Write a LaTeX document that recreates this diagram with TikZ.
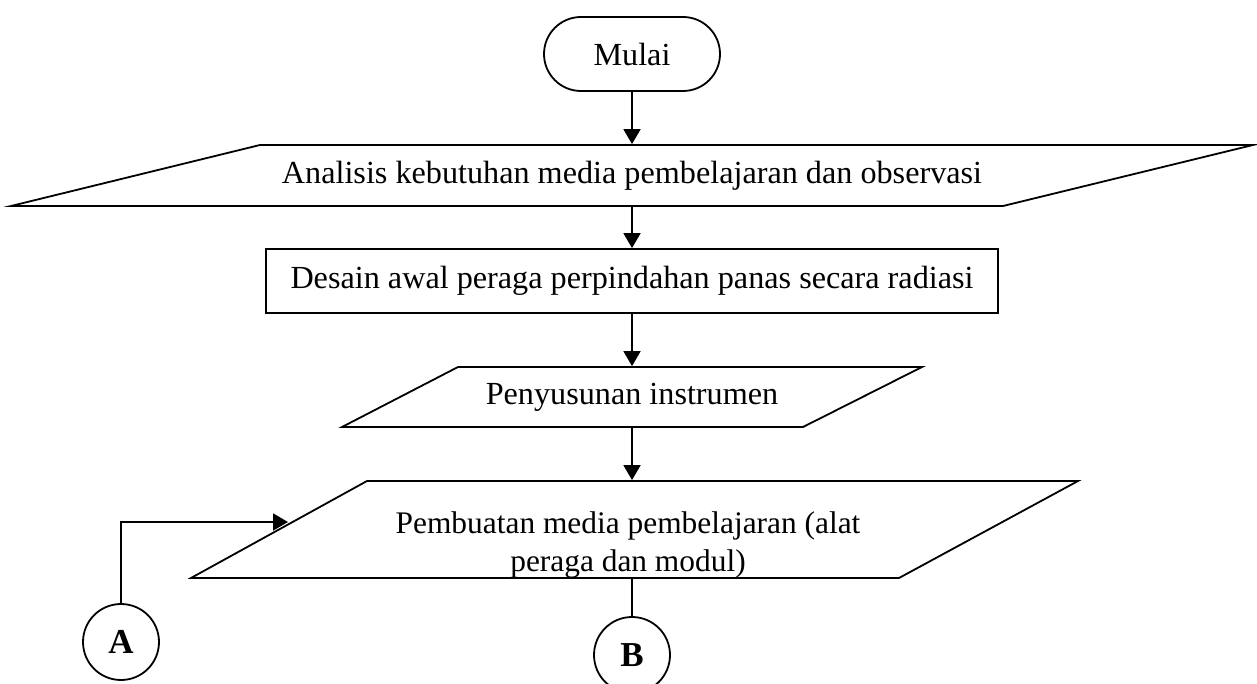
\documentclass[tikz,border=0pt]{standalone}
\usepackage{fontspec}
\setmainfont{Liberation Serif}
\usetikzlibrary{arrows.meta}

\tikzset{
  flow/.style={-{Triangle[length=7.5pt,width=8.5pt]}},
  konektor/.style={circle, draw, minimum size=38pt, inner sep=0pt, font=\fontsize{17.5}{20}\selectfont\bfseries}
}

\begin{document}
\begin{tikzpicture}[x=0.5pt,y=-0.5pt,line width=0.9pt,
    every node/.style={font=\fontsize{16.1}{19}\selectfont}]
  \useasboundingbox (0,0) rectangle (1257,684);
  % terminal
  \node[draw, rounded corners=18.5pt, minimum width=88pt, minimum height=37pt] (mulai) at (632,54) {Mulai};
  % input/output boxes
  \node[minimum height=30.5pt, inner sep=0pt] (analisis) at (632,175.5) {Analisis kebutuhan media pembelajaran dan observasi};
  \draw (260,145) -- (1253,145) -- (1003,206) -- (11,206) -- cycle;
  \node[draw, minimum width=366pt, minimum height=32pt] (desain) at (632,281) {Desain awal peraga perpindahan panas secara radiasi};
  \node[minimum height=30pt, inner sep=0pt] (penyusunan) at (632,397) {Penyusunan instrumen};
  \draw (458,367) -- (922,367) -- (803,427) -- (342,427) -- cycle;
  \node[minimum width=300pt, minimum height=48.5pt, inner sep=0pt] (pembuatan) at (632,529.5) {};
  \draw (367,481) -- (1078,481) -- (899,578) -- (191,578) -- cycle;
  \node[align=center, font=\fontsize{15.7}{19}\selectfont] (pembuatanteks) at (628,545) {Pembuatan media pembelajaran (alat\\ peraga dan modul)};
  % connectors
  \node[konektor] (A) at (121,642) {A};
  \node[konektor] (B) at (632,655) {B};
  \coordinate (masuk) at (288,522);

  \draw[flow] (mulai) -- (analisis);
  \draw[flow] (analisis) -- (desain);
  \draw[flow] (desain) -- (penyusunan);
  \draw[flow] (penyusunan) -- (pembuatan);
  \draw[flow] (A) |- (masuk);
  \draw (pembuatan) -- (B);
\end{tikzpicture}
\end{document}
